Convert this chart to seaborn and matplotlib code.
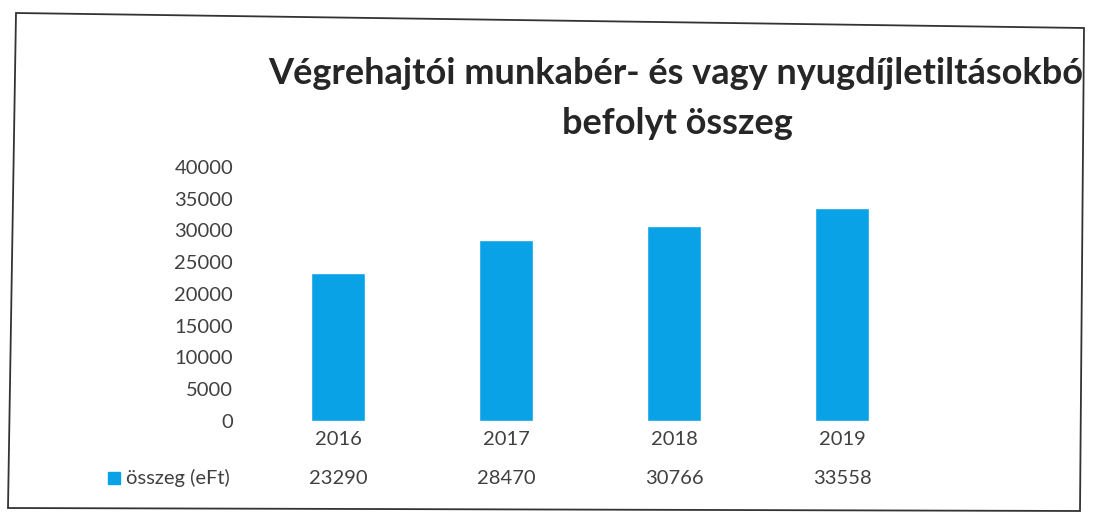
import numpy as np
import pandas as pd
import seaborn as sns
import matplotlib.pyplot as plt
import matplotlib.transforms as mtransforms
from matplotlib.patches import Polygon, Rectangle

# data
years = ['2016', '2017', '2018', '2019']
amounts = [23290, 28470, 30766, 33558]
series_name = 'összeg (eFt)'
title_line1 = 'Végrehajtói munkabér- és vagy nyugdíjletiltásokból'
title_line2 = 'befolyt összeg'
yticks = [0, 5000, 10000, 15000, 20000, 25000, 30000, 35000, 40000]

df = pd.DataFrame({'year': years, 'amount': amounts})

sns.set_theme(style='white')
plt.rcParams['font.family'] = ['Lato', 'DejaVu Sans']

bar_color = '#0AA2E6'
text_color = '#404040'

W, H = 1093, 515
fig = plt.figure(figsize=(W / 100, H / 100), dpi=100)
ax = fig.add_axes([254 / W, 1 - 421 / H, 672 / W, 254 / H])

sns.barplot(data=df, x='year', y='amount', color=bar_color, width=0.32,
            saturation=1, ax=ax)

ax.set_ylim(0, 40000)
ax.set_yticks(yticks)
ax.set_yticklabels([str(v) for v in yticks])
ax.set_xlabel('')
ax.set_ylabel('')
for s in ax.spines.values():
    s.set_visible(False)
ax.tick_params(axis='y', length=0, pad=15, labelsize=14.5, labelcolor=text_color)
ax.tick_params(axis='x', length=0, pad=7, labelsize=14.5, labelcolor=text_color)

# data table row under the years
row = mtransforms.blended_transform_factory(ax.transData, fig.transFigure)
for i, v in enumerate(amounts):
    ax.text(i, 1 - 478 / H, str(v), transform=row,
            ha='center', va='center', fontsize=14.5, color=text_color)

fig.patches.append(Rectangle((108 / W, 1 - 484 / H), 12 / W, 12 / H,
                             transform=fig.transFigure, color=bar_color))
fig.text(126 / W, 1 - 478 / H, series_name, ha='left', va='center',
         fontsize=14.5, color=text_color)

# title, clipped by the chart frame on the right as in the original
clip = Rectangle((0, 0), 1083 / W, 1, transform=fig.transFigure)
t1 = fig.text(680 / W, 1 - 73 / H, title_line1, ha='center', va='center',
              fontsize=26, fontweight='bold', color='#262626')
t1.set_clip_path(clip)
t1.set_clip_on(True)
fig.text(677 / W, 1 - 124 / H, title_line2, ha='center', va='center',
         fontsize=26, fontweight='bold', color='#262626')

# chart frame (slightly skewed like the scan)
frame = Polygon([(16 / W, 1 - 13 / H), (1084 / W, 1 - 28 / H),
                 (1080 / W, 1 - 511 / H), (8 / W, 1 - 508 / H)],
                closed=True, fill=False, edgecolor='#333333', linewidth=1.3,
                transform=fig.transFigure)
fig.patches.append(frame)

fig.savefig('out.png', dpi=100)
